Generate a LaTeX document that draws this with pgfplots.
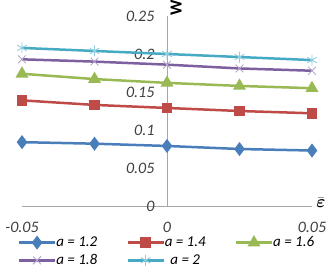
\documentclass[border=0pt]{standalone}
\usepackage{amsmath}
\usepackage{pgfplots}
\pgfplotsset{compat=1.18}
\usepackage{fontspec}
\setmainfont{Carlito}
\definecolor{cA}{HTML}{4A7EBB}
\definecolor{cB}{HTML}{BE4B48}
\definecolor{cC}{HTML}{98B954}
\definecolor{cD}{HTML}{7D60A0}
\definecolor{cE}{HTML}{46AAC5}
\definecolor{axgray}{HTML}{A6A6A6}
\definecolor{lblgray}{HTML}{404040}
% invisible strut that sets the x tick labels lower under the axis line
\newcommand{\lowlabel}[1]{\rule{0pt}{23pt}#1}
\begin{document}
\begin{tikzpicture}
% fixed frame around the 290pt x 190pt plot area
\path[use as bounding box] (-22pt,-63pt) rectangle (304pt,206pt);
\begin{axis}[
  at={(0pt,0pt)}, anchor=south west,
  scale only axis, width=290pt, height=190pt,
  xmin=-0.05, xmax=0.05, ymin=0, ymax=0.25,
  clip=false,
  scaled ticks=false,
  axis lines=middle,
  axis line style={-, draw=axgray, line width=0.8pt},
  hide obscured x ticks=false, hide obscured y ticks=false,
  xtick={-0.05,0,0.05},
  xticklabels={\lowlabel{-0.05},\lowlabel{0},\lowlabel{0.05}},
  ytick={0,0.05,0.1,0.15,0.2,0.25},
  yticklabels={0,0.05,0.1,0.15,0.2,0.25},
  major tick length=0pt,
  tick label style={font=\fontsize{16}{20}\selectfont\itshape, text=lblgray},
  yticklabel style={anchor=east, xshift=-9pt},
  xlabel={$\bar{\boldsymbol{\varepsilon}}$},
  ylabel={\textbf{W}},
  every axis x label/.style={at={(axis description cs:1,0)}, anchor=south, inner sep=0pt, xshift=9pt, yshift=-2pt, font=\fontsize{18}{20}\selectfont},
  every axis y label/.style={at={(axis description cs:0.5,0.995)}, anchor=north, rotate=90, xshift=9pt, font=\fontsize{17}{20}\selectfont},
  legend columns=3,
  legend style={at={(0.5,-0.14)}, anchor=north, draw=none, fill=none,
    font=\fontsize{15}{18}\selectfont\itshape, text=black,
    /tikz/every even column/.style={column sep=27pt},
    /tikz/every odd column/.style={column sep=-2pt},
    row sep=2pt},
  legend image code/.code={\draw[mark repeat=2, mark phase=2] plot coordinates {(0pt,0pt) (18pt,0pt) (36pt,0pt)};},
]
\addplot[color=cA, line width=2.5pt, mark=diamond*, mark size=5pt, mark options={solid, fill=cA}]
  coordinates {(-0.05,0.084) (-0.025,0.082) (0,0.079) (0.025,0.075) (0.05,0.073)};
\addlegendentry{a = 1.2}
\addplot[color=cB, line width=2.5pt, mark=square*, mark size=4pt, mark options={solid, fill=cB}]
  coordinates {(-0.05,0.139) (-0.025,0.133) (0,0.129) (0.025,0.125) (0.05,0.122)};
\addlegendentry{a = 1.4}
\addplot[color=cC, line width=2.5pt, mark=triangle*, mark size=5pt, mark options={solid, fill=cC}]
  coordinates {(-0.05,0.174) (-0.025,0.167) (0,0.162) (0.025,0.158) (0.05,0.155)};
\addlegendentry{a = 1.6}
\addplot[color=cD, line width=2.5pt, mark=x, mark size=5.5pt, mark options={solid, line width=0.9pt, draw=cD!55}]
  coordinates {(-0.05,0.193) (-0.025,0.190) (0,0.186) (0.025,0.181) (0.05,0.178)};
\addlegendentry{a = 1.8}
\addplot[color=cE, line width=2.5pt, mark=asterisk, mark size=5.5pt, mark options={solid, line width=0.9pt, draw=cE!60}]
  coordinates {(-0.05,0.208) (-0.025,0.204) (0,0.200) (0.025,0.196) (0.05,0.192)};
\addlegendentry{a = 2}
\end{axis}
\end{tikzpicture}
\end{document}
